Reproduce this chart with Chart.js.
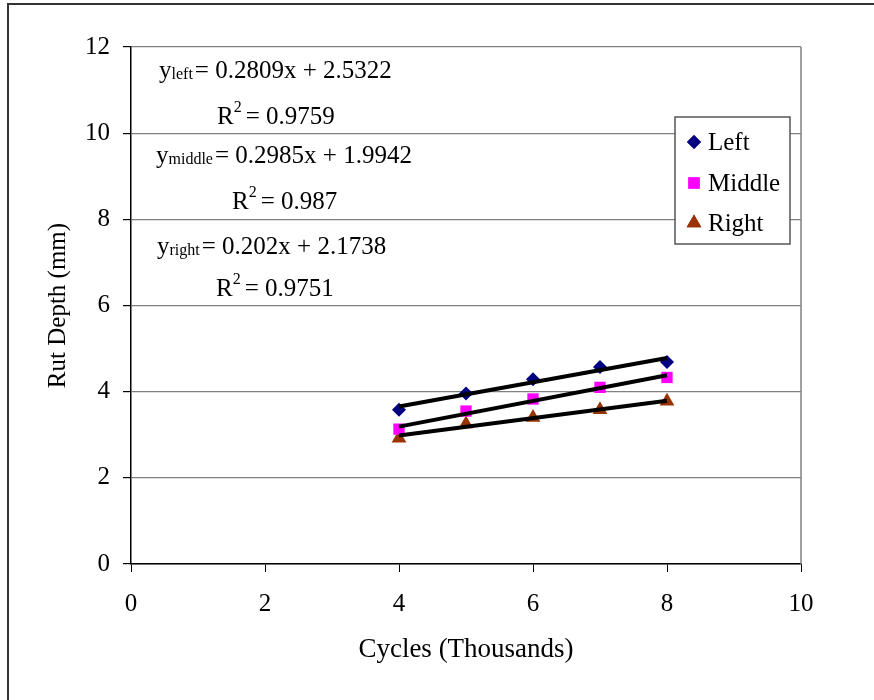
<!DOCTYPE html>
<html lang="en">
<head>
  <meta charset="UTF-8">
  <title>Rut Depth vs Cycles</title>
  <script src="https://cdn.jsdelivr.net/npm/chart.js"></script>
  <style>
    body { margin: 0; background: #fff; }
    #rutChart { display: block; }
  </style>
</head>
<body>
  <canvas id="rutChart" width="874" height="700"></canvas>

  <script>
    // measured rut depth (mm) at each load level (thousands of cycles)
    const cycles = [4, 5, 6, 7, 8];
    const rutLeft = [3.58, 3.96, 4.29, 4.57, 4.69];
    const rutMiddle = [3.13, 3.55, 3.83, 4.10, 4.33];
    const rutRight = [2.92, 3.25, 3.40, 3.58, 3.78];

    const seriesNames = ['Left', 'Middle', 'Right'];
    const seriesKeys = ['left', 'middle', 'right'];
    const seriesColors = ['#000080', '#ff00ff', '#993300'];
    const seriesMarkers = ['rectRot', 'rect', 'triangle'];
    const markerSizes = [7, 8, 8.5];

    // linear trend lines: y = slope * x + intercept
    const slopes = [0.2809, 0.2985, 0.202];
    const intercepts = [2.5322, 1.9942, 2.1738];
    const slopeLabels = ['0.2809', '0.2985', '0.202'];
    const interceptLabels = ['2.5322', '1.9942', '2.1738'];
    const rSquared = ['0.9759', '0.987', '0.9751'];

    const xTicks = [0, 2, 4, 6, 8, 10];
    const yTicks = [0, 2, 4, 6, 8, 10, 12];

    const FONT = "'Liberation Serif', 'Times New Roman', serif";
    const allSeries = [rutLeft, rutMiddle, rutRight];

    const trendSets = allSeries.map((s, i) => ({
      label: seriesNames[i] + ' trend',
      data: [cycles[0], cycles[cycles.length - 1]].map(x => ({ x: x, y: slopes[i] * x + intercepts[i] })),
      showLine: true,
      borderColor: '#000',
      borderWidth: 4,
      pointRadius: 0,
      order: 0
    }));

    const pointSets = allSeries.map((s, i) => ({
      label: seriesNames[i],
      data: cycles.map((x, j) => ({ x: x, y: s[j] })),
      showLine: false,
      pointStyle: seriesMarkers[i],
      pointRadius: markerSizes[i],
      backgroundColor: seriesColors[i],
      borderColor: seriesColors[i],
      borderWidth: 0,
      order: 1
    }));

    // frame, right plot edge, trend equations and legend box
    const decorations = {
      id: 'decorations',
      beforeDraw(chart) {
        const ctx = chart.ctx;
        ctx.save();
        ctx.fillStyle = '#fff';
        ctx.fillRect(0, 0, chart.width, chart.height);
        ctx.restore();
      },
      afterDatasetsDraw(chart) {
        const ctx = chart.ctx;
        const area = chart.chartArea;
        ctx.save();

        // outer frame (left and top edges only)
        ctx.strokeStyle = '#333';
        ctx.lineWidth = 2;
        ctx.beginPath();
        ctx.moveTo(8, chart.height);
        ctx.lineTo(8, 4);
        ctx.lineTo(chart.width, 4);
        ctx.stroke();

        // right edge of plot area
        ctx.strokeStyle = '#808080';
        ctx.lineWidth = 1.5;
        ctx.beginPath();
        ctx.moveTo(area.right, area.top);
        ctx.lineTo(area.right, area.bottom);
        ctx.stroke();

        // trend equations
        ctx.fillStyle = '#000';
        ctx.textBaseline = 'alphabetic';
        ctx.textAlign = 'left';
        const eqPos = [[159, 78, 217, 124], [156, 163, 232, 209], [157, 254, 216, 296]];
        eqPos.forEach((p, i) => {
          let x = p[0];
          ctx.font = '25px ' + FONT;
          ctx.fillText('y', x, p[1]);
          x += ctx.measureText('y').width;
          ctx.font = '16px ' + FONT;
          ctx.fillText(seriesKeys[i], x, p[1] + 1);
          x += ctx.measureText(seriesKeys[i]).width + 2;
          ctx.font = '25px ' + FONT;
          ctx.fillText('= ' + slopeLabels[i] + 'x + ' + interceptLabels[i], x, p[1]);

          x = p[2];
          ctx.fillText('R', x, p[3]);
          x += ctx.measureText('R').width;
          ctx.font = '16px ' + FONT;
          ctx.fillText('2', x, p[3] - 12);
          x += ctx.measureText('2').width + 4;
          ctx.font = '25px ' + FONT;
          ctx.fillText('= ' + rSquared[i], x, p[3]);
        });

        // legend
        const box = { x: 675, y: 117, w: 115, h: 127 };
        ctx.fillStyle = '#fff';
        ctx.fillRect(box.x, box.y, box.w, box.h);
        ctx.strokeStyle = '#555';
        ctx.lineWidth = 1.5;
        ctx.strokeRect(box.x, box.y, box.w, box.h);
        const rowY = [142, 183, 223];
        seriesNames.forEach((name, i) => {
          ctx.fillStyle = seriesColors[i];
          Chart.helpers.drawPoint(ctx, {
            pointStyle: seriesMarkers[i],
            radius: markerSizes[i],
            borderWidth: 0
          }, 694, rowY[i]);
          ctx.fill();
          ctx.fillStyle = '#000';
          ctx.font = '25px ' + FONT;
          ctx.textBaseline = 'middle';
          ctx.fillText(name, 708, rowY[i] + 1);
        });
        ctx.restore();
      }
    };

    new Chart(document.getElementById('rutChart'), {
      type: 'scatter',
      data: { datasets: trendSets.concat(pointSets) },
      options: {
        responsive: false,
        animation: false,
        layout: { padding: { top: 47, right: 73, left: 0, bottom: 0 } },
        plugins: {
          legend: { display: false },
          tooltip: { enabled: false }
        },
        scales: {
          x: {
            type: 'linear',
            min: xTicks[0],
            max: xTicks[xTicks.length - 1],
            afterBuildTicks: s => { s.ticks = xTicks.map(v => ({ value: v })); },
            afterFit: s => { s.height = 136; },
            ticks: { color: '#000', font: { family: FONT, size: 25 }, padding: 17, maxRotation: 0 },
            grid: { drawOnChartArea: false, tickLength: 8, tickColor: '#000', tickWidth: 1 },
            border: { color: '#000', width: 1.5 },
            title: {
              display: true,
              text: 'Cycles (Thousands)',
              color: '#000',
              font: { family: FONT, size: 27 },
              padding: { top: 0, bottom: 34 }
            }
          },
          y: {
            type: 'linear',
            min: yTicks[0],
            max: yTicks[yTicks.length - 1],
            afterBuildTicks: s => { s.ticks = yTicks.map(v => ({ value: v })); },
            afterFit: s => { s.width = 131; },
            ticks: { color: '#000', font: { family: FONT, size: 25 }, padding: 13 },
            grid: { color: '#808080', lineWidth: 1.2, tickLength: 8, tickColor: '#000' },
            border: { color: '#000', width: 1.5 },
            title: {
              display: true,
              text: 'Rut Depth (mm)',
              color: '#000',
              font: { family: FONT, size: 25 },
              padding: { top: 43, bottom: 0 }
            }
          }
        }
      },
      plugins: [decorations]
    });
  </script>
</body>
</html>
